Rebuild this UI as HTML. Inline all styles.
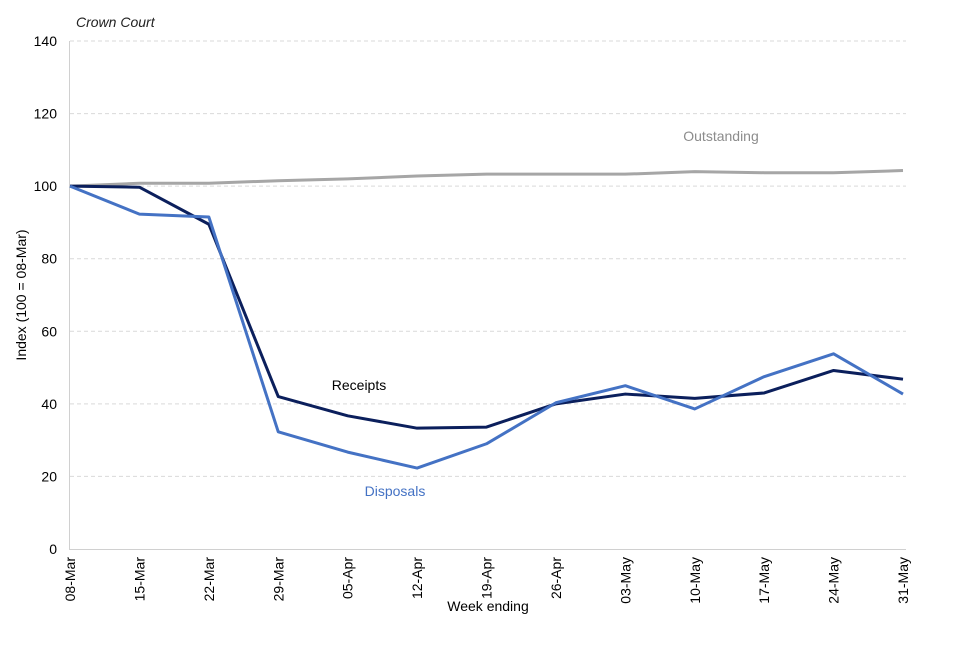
<!DOCTYPE html>
<html><head><meta charset="utf-8"><style>
body{margin:0;background:#fff;font-family:"Liberation Sans",Arial,sans-serif}
svg text{font-family:"Liberation Sans",Arial,sans-serif}
</style></head><body>
<svg id="c" width="960" height="640">
<text x="76" y="27" font-size="14" font-style="italic" fill="#222">Crown Court</text>
<text transform="translate(26,295) rotate(-90)" text-anchor="middle" font-size="14" fill="#000">Index (100 = 08-Mar)</text>
<text x="488" y="611" text-anchor="middle" font-size="14" fill="#000">Week ending</text>
<g id="grid"></g><g id="axes"></g><g id="series"></g>
<text x="721" y="141" text-anchor="middle" font-size="14" fill="#8c8c8c">Outstanding</text>
<text x="359" y="390" text-anchor="middle" font-size="14" fill="#000">Receipts</text>
<text x="395" y="496" text-anchor="middle" font-size="14" fill="#4472c4">Disposals</text>
</svg>
<script>
const categories=["08-Mar","15-Mar","22-Mar","29-Mar","05-Apr","12-Apr","19-Apr","26-Apr","03-May","10-May","17-May","24-May","31-May"];
const outstanding=[100,100.8,100.8,101.5,102,102.8,103.3,103.3,103.3,104,103.7,103.7,104.3];
const receipts=[100,99.7,89.5,42,36.7,33.3,33.6,40,42.7,41.5,43,49.2,46.8];
const disposals=[100,92.3,91.5,32.3,26.7,22.3,29,40.3,45,38.6,47.5,53.8,42.7];
const yTicks=[0,20,40,60,80,100,120,140];
const NS="http://www.w3.org/2000/svg";
const x0=70,x1=903,yb=549,yt=41;
const X=i=>x0+i*(x1-x0)/(categories.length-1);
const Y=v=>yb-v*(yb-yt)/140;
function mk(t,a,p){const e=document.createElementNS(NS,t);for(const k in a)e.setAttribute(k,a[k]);p.appendChild(e);return e;}
const grid=document.getElementById('grid'),axes=document.getElementById('axes'),ser=document.getElementById('series');
yTicks.forEach(v=>{
 if(v>0){const l=mk('line',{x1:x0,x2:x1+3,y1:Y(v),y2:Y(v),stroke:'#d9d9d9','stroke-dasharray':'4,3'},grid);
 
 }
 const t=mk('text',{x:57,y:Y(v)+5,'text-anchor':'end','font-size':14,fill:'#000'},axes);t.textContent=v;
 
 
});
const ya=mk('line',{x1:x0-0.5,x2:x0-0.5,y1:yt,y2:yb+1,stroke:'#d0d0d0'},axes);


const xa=mk('line',{x1:x0-1,x2:x1+3,y1:yb+0.5,y2:yb+0.5,stroke:'#d0d0d0'},axes);


categories.forEach((c,i)=>{
 const t=mk('text',{transform:`translate(${X(i)+5},557) rotate(-90)`,'text-anchor':'end','font-size':14,fill:'#000'},axes);t.textContent=c;
 
 
});
function line(d,col,name){
 const p=mk('polyline',{points:d.map((v,i)=>X(i)+','+Y(v)).join(' '),fill:'none',stroke:col,'stroke-width':3,'stroke-linejoin':'round'},ser);
 
 
}
line(outstanding,'#a6a6a6','outstanding-line');
line(receipts,'#0b1f5c','receipts-line');
line(disposals,'#4472c4','disposals-line');
</script>
</body></html>
